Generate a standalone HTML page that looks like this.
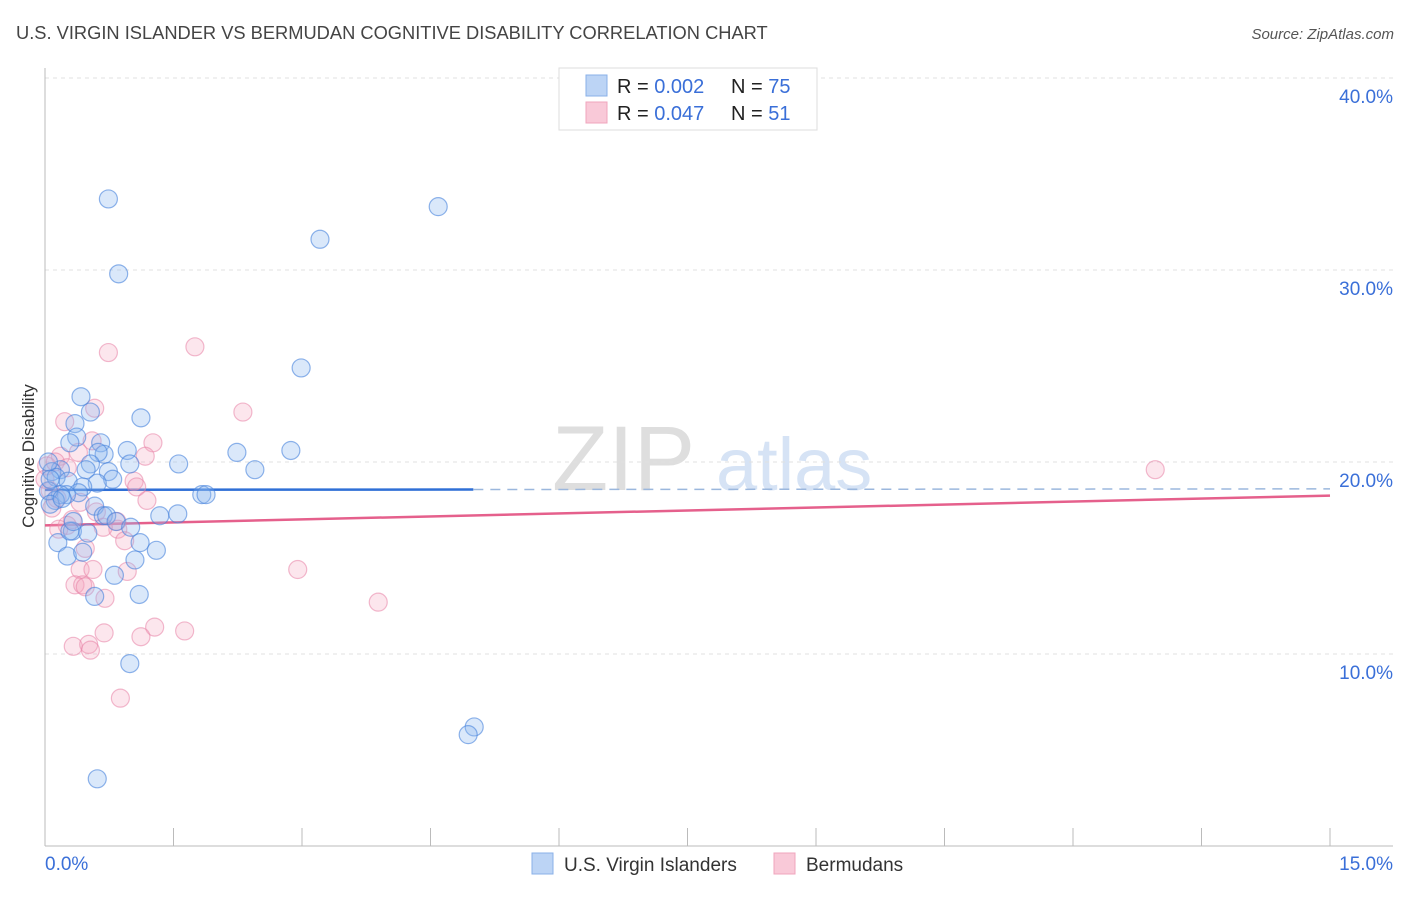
<!DOCTYPE html>
<html><head><meta charset="utf-8">
<style>
body{margin:0;background:#fff;font-family:"Liberation Sans",sans-serif;}
svg text{font-family:"Liberation Sans",sans-serif;}
</style></head>
<body>
<svg id="chart" width="1406" height="892" viewBox="0 0 1406 892" xmlns="http://www.w3.org/2000/svg">
<text x="16" y="39" font-size="18.3" fill="#444">U.S. VIRGIN ISLANDER VS BERMUDAN COGNITIVE DISABILITY CORRELATION CHART</text>
<text x="1394" y="39" font-size="15" fill="#555" font-style="italic" text-anchor="end">Source: ZipAtlas.com</text>
<g>
<text x="552" y="490" font-size="92" fill="#dedede" font-family="Liberation Serif,serif">ZIP</text>
<text x="716" y="490" font-size="74" fill="#d6e3f5">atlas</text>
</g>
<g id="grid"></g>
<g id="axes"></g>
<g id="trend"></g>
<g id="pts"></g>
<text transform="translate(34,456) rotate(-90)" font-size="17" fill="#333" text-anchor="middle">Cognitive Disability</text>
<g>
<rect x="559" y="68" width="258" height="62" fill="#fff" stroke="#ddd"/>
<rect x="586" y="75" width="21" height="21" fill="#bcd4f5" stroke="#8ab0e8"/>
<rect x="586" y="102" width="21" height="21" fill="#f9c9d8" stroke="#f0a5bd"/>
<text x="617" y="93" font-size="20" fill="#222">R = <tspan fill="#3a6fd8">0.002</tspan><tspan x="731">N = </tspan><tspan fill="#3a6fd8">75</tspan></text>
<text x="617" y="120" font-size="20" fill="#222">R = <tspan fill="#3a6fd8">0.047</tspan><tspan x="731">N = </tspan><tspan fill="#3a6fd8"> 51</tspan></text>
</g>
<g>
<rect x="532" y="853" width="21" height="21" fill="#bcd4f5" stroke="#8ab0e8"/>
<text x="564" y="871" font-size="19" fill="#333">U.S. Virgin Islanders</text>
<rect x="774" y="853" width="21" height="21" fill="#f9c9d8" stroke="#f0a5bd"/>
<text x="806" y="871" font-size="19" fill="#333">Bermudans</text>
</g>
</svg>
<script>
const blueX=[0.74,4.59,3.21,0.86,2.99,0.42,1.12,0.53,0.35,0.37,0.29,0.65,0.96,0.69,0.62,2.24,2.87,1.56,2.45,0.99,0.53,0.74,0.48,0.79,0.18,0.08,0.13,0.27,0.61,0.44,0.39,0.25,0.18,1.83,1.88,0.12,0.04,0.06,0.58,0.68,0.72,1.34,1.55,0.83,1.00,0.32,0.50,1.11,0.15,1.30,0.26,0.44,1.05,0.81,1.10,0.58,0.99,5.01,4.94,0.61,0.04,0.06,0.20,0.29,0.33];
const blueY=[33.7,33.3,31.6,29.8,24.9,23.4,22.3,22.6,22.0,21.3,21.0,21.0,20.6,20.4,20.5,20.5,20.6,19.9,19.6,19.9,19.9,19.5,19.6,19.1,19.6,19.5,19.2,19.0,18.9,18.7,18.4,18.3,18.3,18.3,18.3,18.0,18.5,17.8,17.7,17.2,17.2,17.2,17.3,16.9,16.6,16.4,16.3,15.8,15.8,15.4,15.1,15.3,14.9,14.1,13.1,13.0,9.5,6.2,5.8,3.5,20.0,19.1,18.1,16.4,16.9];
const pinkX=[0.74,1.75,2.31,0.58,0.23,1.26,0.55,1.17,0.39,0.18,12.96,0.02,0.12,0.26,1.04,1.07,1.19,0.41,0.14,0.08,0.60,0.84,0.85,0.93,0.47,0.32,0.26,0.16,0.68,2.95,0.41,0.56,0.96,0.35,0.44,0.70,0.47,3.89,1.28,1.63,0.69,1.12,0.33,0.51,0.53,0.88,0.0,0.06];
const pinkY=[25.7,26.0,22.6,22.8,22.1,21.0,21.1,20.3,20.5,20.3,19.6,19.8,20.0,19.7,19.0,18.7,18.0,17.9,18.1,17.6,17.4,16.9,16.5,15.9,15.5,17.0,16.7,16.5,16.6,14.4,14.4,14.4,14.3,13.6,13.6,12.9,13.5,12.7,11.4,11.2,11.1,10.9,10.4,10.5,10.2,7.7,19.1,18.5];
const yTicks=[10,20,30,40];
const yTickLabels=["10.0%","20.0%","30.0%","40.0%"];
const xTickLabels=["0.0%","15.0%"];
const blueTrend=[18.55,18.6];
const pinkTrend=[16.7,18.25];
const blueSolidEnd=5.0;

const NS="http://www.w3.org/2000/svg";
const X0=45,X1=1330,Y0=846,PY=19.2;
const sx=v=>X0+v/15*(X1-X0);
const sy=v=>Y0-v*PY;
function mk(tag,attrs,parent){const e=document.createElementNS(NS,tag);for(const k in attrs)e.setAttribute(k,attrs[k]);parent.appendChild(e);return e;}
const grid=document.getElementById('grid'),axes=document.getElementById('axes'),trend=document.getElementById('trend'),pts=document.getElementById('pts');
yTicks.forEach((t,i)=>{
  const l=mk('line',{x1:X0,x2:1393,y1:sy(t),y2:sy(t),stroke:'#e0e0e0','stroke-dasharray':'4,4'},grid);
  
  
  const tx=mk('text',{x:1393,y:sy(t)+25,'font-size':19,fill:'#3a6fd8','text-anchor':'end'},axes);
  tx.textContent=yTickLabels[i];
  
  
});
mk('line',{x1:X0,x2:X0,y1:68,y2:Y0,stroke:'#bbb'},axes);
mk('line',{x1:X0,x2:1393,y1:Y0,y2:Y0,stroke:'#bbb'},axes);
for(let k=1;k<=10;k++){mk('line',{x1:sx(k*1.5),x2:sx(k*1.5),y1:Y0-18,y2:Y0,stroke:'#bbb'},axes);}
let t0=mk('text',{x:45,y:870,'font-size':19,fill:'#3a6fd8'},axes);t0.textContent=xTickLabels[0];


let t1=mk('text',{x:1393,y:870,'font-size':19,fill:'#3a6fd8','text-anchor':'end'},axes);t1.textContent=xTickLabels[1];


function drawPts(xs,ys,fill,stroke,name){
  xs.forEach((x,i)=>{const c=mk('circle',{cx:sx(x),cy:sy(ys[i]),r:9,fill:fill,stroke:stroke,'stroke-width':1.2},pts);
  
  });
}
drawPts(pinkX,pinkY,'rgba(244,165,192,0.28)','rgba(232,130,165,0.55)','bermudan-point');
drawPts(blueX,blueY,'rgba(140,182,238,0.32)','rgba(70,130,220,0.6)','virgin-islander-point');
const by=x=>blueTrend[0]+(blueTrend[1]-blueTrend[0])*x/15;
let bl=mk('line',{x1:sx(0),y1:sy(by(0)),x2:sx(blueSolidEnd),y2:sy(by(blueSolidEnd)),stroke:'#2f6fd6','stroke-width':2.5},trend);


let bd=mk('line',{x1:sx(blueSolidEnd),y1:sy(by(blueSolidEnd)),x2:sx(15),y2:sy(by(15)),stroke:'#9bb7dd','stroke-width':1.5,'stroke-dasharray':'10,7'},trend);


let pl=mk('line',{x1:sx(0),y1:sy(pinkTrend[0]),x2:sx(15),y2:sy(pinkTrend[1]),stroke:'#e5608c','stroke-width':2.5},trend);


</script>
</body></html>
